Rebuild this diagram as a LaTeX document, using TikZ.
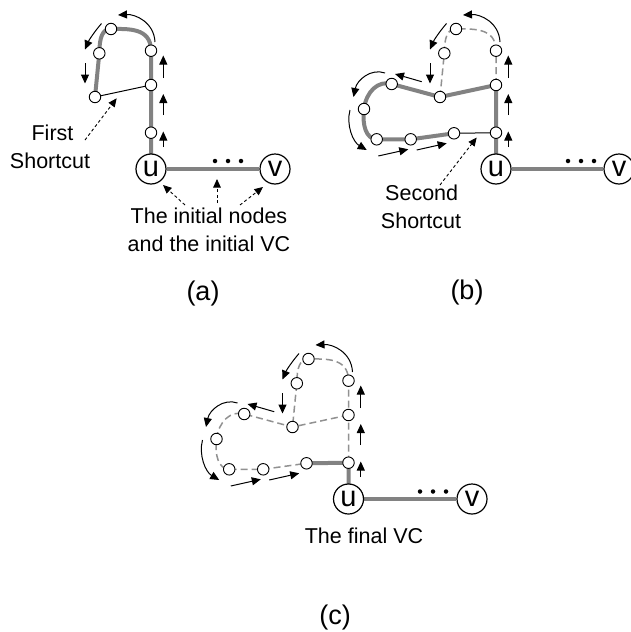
\documentclass[tikz,border=0pt]{standalone}
\usepackage{fontspec}
\setmainfont{Liberation Sans}
\usetikzlibrary{arrows.meta,backgrounds}
\definecolor{vcgray}{RGB}{130,130,130}
\definecolor{oldgray}{RGB}{145,145,145}
\tikzset{
 vc/.style={draw=vcgray,line width=4pt,line join=round},
 oldvc/.style={draw=oldgray,line width=1.5pt,dash pattern=on 7pt off 4pt},
 cut/.style={draw=black,line width=1pt},
 pt/.style={circle,draw,fill=white,line width=0.9pt,minimum size=11.5pt,inner sep=0pt},
 big/.style={circle,draw,fill=white,line width=1.2pt,minimum size=30pt,inner sep=0pt,font=\fontsize{29}{29}\selectfont},
 mv/.style={-{Triangle[length=9pt,width=8pt]},line width=1pt},
 note/.style={-{Triangle[length=8.5pt,width=7.5pt]},line width=0.9pt,dash pattern=on 3pt off 2.5pt},
 lbl/.style={font=\fontsize{21.5}{26}\selectfont,anchor=base,inner sep=0pt},
 pcap/.style={font=\fontsize{27}{30}\selectfont,anchor=base,inner sep=0pt},
 vdot/.style={circle,fill=black,minimum size=4.5pt,inner sep=0pt},
}
\newcommand\TopNodes{%
 \node[pt] (n1) at (151,132.7) {};
 \node[pt] (n2) at (151,85) {};
 \node[pt] (n3) at (151,50.7) {};
 \node[pt] (n4) at (111,29) {};
 \node[pt] (n5) at (99.3,53.3) {};
 \node[pt] (n6) at (95,97) {};
}
\newcommand\LoopNodes{%
 \node[pt] (n7) at (46.7,84) {};
 \node[pt] (n8) at (19,109) {};
 \node[pt] (n9) at (31.7,139.3) {};
 \node[pt] (n10) at (65.7,139.3) {};
 \node[pt] (n11) at (109,133.3) {};
}
\newcommand\TopArrows{%
 \draw[mv] (163.3,147) -- (163.3,131.5);
 \draw[mv] (163.3,115) -- (163.3,94);
 \draw[mv] (163.3,78) -- (163.3,55.5);
 \draw[mv] (155,42) .. controls (154,22) and (135,14) .. (118,15);
 \draw[mv] (101.5,23.5) .. controls (95,31) and (89,40) .. (85,49.5);
 \draw[mv] (85,63) -- (85,83.5);
}
\newcommand\LoopArrows{%
 \draw[mv] (76.7,81.7) -- (50,74);
 \draw[mv] (40,73) .. controls (26,68) and (12,80) .. (8.5,97);
 \draw[mv] (5,110) .. controls (1,125) and (8,142) .. (21.7,150);
 \draw[mv] (33.3,156) -- (63.3,149.3);
 \draw[mv] (71.7,150) -- (101.7,143.3);
}
\newcommand\TopCurve{(n3.center) .. controls (151,27) and (127,29) .. (n4.center) .. controls (102,29) and (99.5,38) .. (n5.center) -- (n6.center)}
\newcommand\LoopCurve{(n6.center) -- (n7.center) .. controls (33,80) and (21,92) .. (n8.center) .. controls (17,125) and (21,139) .. (n9.center) -- (n10.center) -- (n11.center)}
\begin{document}
\begin{tikzpicture}[x=1pt,y=-1pt]
\useasboundingbox (0,0) rectangle (631,632);
% ---------------- (a)
\begin{scope}[name prefix=a-]
 \node[big] (u) at (151,169) {u};
 \node[big] (v) at (275,169) {v};
 \TopNodes
 \node[vdot] (d1) at (215,161) {};
 \node[vdot] (d2) at (228,161) {};
 \node[vdot] (d3) at (241,161) {};
 \begin{pgfonlayer}{background}
  \draw[vc] (u) -- (v);
  \draw[vc] (u.center) -- (n1.center) -- (n2.center) -- \TopCurve;
  \draw[cut] (n6) -- (n2);
 \end{pgfonlayer}
 \TopArrows
 \node[lbl] (t1) at (52.5,140) {First};
 \node[lbl] (t2) at (50,168) {Shortcut};
 \node[lbl] (t3) at (209,223.3) {The initial nodes};
 \node[lbl] (t4) at (209,251.7) {and the initial VC};
 \node[pcap] (ca) at (203,300) {(a)};
 \coordinate (f0) at (85,140);
 \coordinate (f1) at (116.7,98.3);
 \coordinate (i0) at (185,205);
 \coordinate (i1) at (163,185);
 \coordinate (j0) at (217,203);
 \coordinate (j1) at (217,179);
 \coordinate (k0) at (240,205);
 \coordinate (k1) at (263,187);
 \draw[note] (f0) -- (f1);
 \draw[note] (i0) -- (i1);
 \draw[note] (j0) -- (j1);
 \draw[note] (k0) -- (k1);
\end{scope}
% ---------------- (b)
\begin{scope}[shift={(345,0)},name prefix=b-]
 \node[big] (u) at (151,169) {u};
 \node[big] (v) at (274,169) {v};
 \TopNodes
 \LoopNodes
 \node[vdot] (d1) at (223,161) {};
 \node[vdot] (d2) at (236,161) {};
 \node[vdot] (d3) at (249,161) {};
 \begin{pgfonlayer}{background}
  \draw[vc] (u) -- (v);
  \draw[oldvc] (n2.center) -- \TopCurve;
  \draw[vc] (u.center) -- (n1.center) -- (n2.center) -- \LoopCurve;
  \draw[cut] (n11) -- (n1);
 \end{pgfonlayer}
 \TopArrows
 \LoopArrows
 \node[lbl] (t1) at (76.7,200) {Second};
 \node[lbl] (t2) at (76,228.3) {Shortcut};
 \node[pcap] (cb) at (122,299) {(b)};
 \coordinate (s0) at (95,185);
 \coordinate (s1) at (131.7,137.5);
 \draw[note] (s0) -- (s1);
\end{scope}
% ---------------- (c)
\begin{scope}[shift={(197.5,330)},name prefix=c-]
 \node[big] (u) at (151,169) {u};
 \node[big] (v) at (274.5,169) {v};
 \TopNodes
 \LoopNodes
 \node[vdot] (d1) at (222.5,161.5) {};
 \node[vdot] (d2) at (235.5,161.5) {};
 \node[vdot] (d3) at (248.5,161.5) {};
 \begin{pgfonlayer}{background}
  \draw[vc] (u) -- (v);
  \draw[oldvc] (n1.center) -- (n2.center) -- \TopCurve;
  \draw[oldvc] (n2.center) -- \LoopCurve;
  \draw[vc] (u.center) -- (n1.center) -- (n11.center);
 \end{pgfonlayer}
 \TopArrows
 \LoopArrows
 \node[lbl] (t1) at (166.5,213) {The final VC};
 \node[pcap] (cc) at (137.5,294) {(c)};
\end{scope}
\end{tikzpicture}
\end{document}
